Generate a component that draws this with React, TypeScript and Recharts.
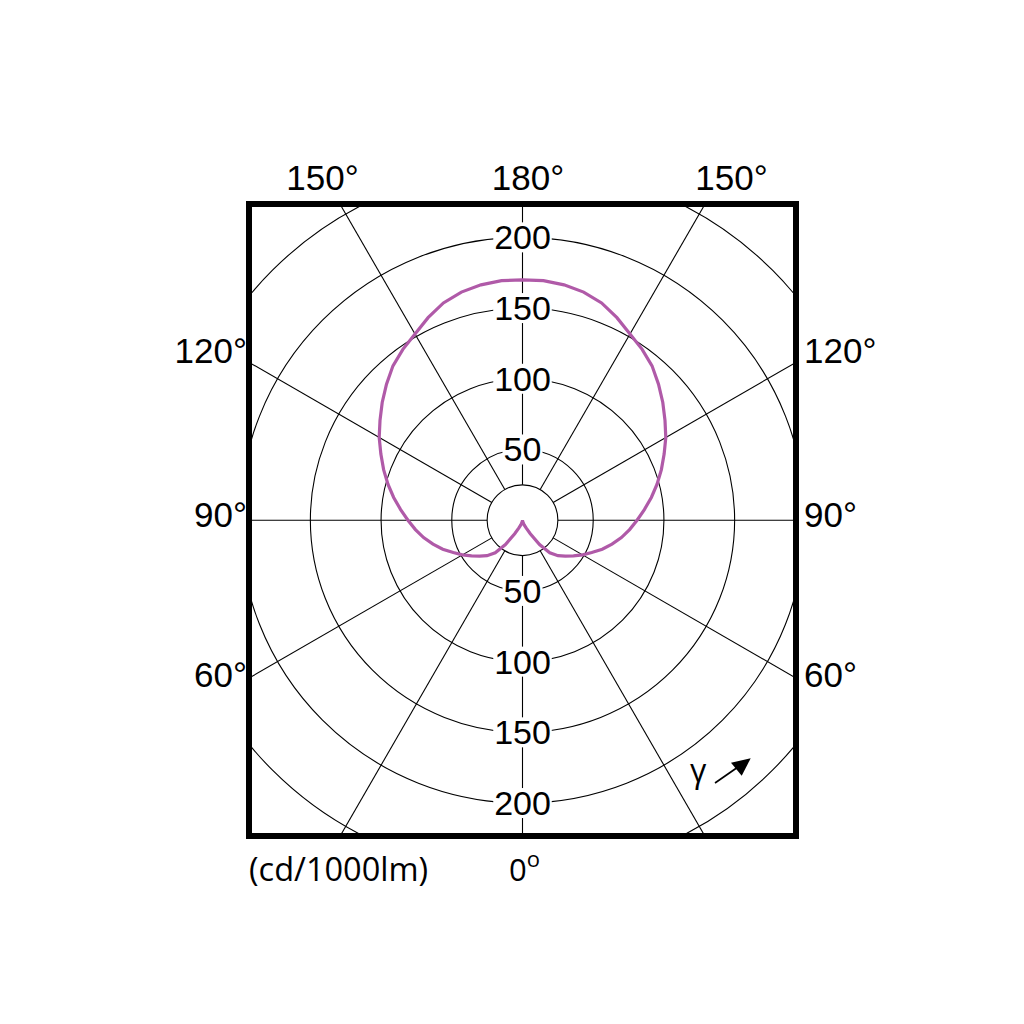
import React from 'react';
import { RadarChart, Radar, PolarGrid, PolarAngleAxis, PolarRadiusAxis } from 'recharts';

// Luminous intensity (cd/1000lm) at gamma = 0..180 deg, 5 deg steps (C0/C180 symmetric)
const gammaStep = 5;
const intensity = [
  0, 0.5, 1, 2, 3.5, 6, 11, 21, 30, 35.5, 39.5, 44, 49, 54, 60, 65.5, 71, 76, 81,
  86.5, 92.5, 98.5, 104.5, 110.5, 117, 123, 129.5, 136, 142.5, 147.5, 152, 158, 163.5, 167, 169, 170, 170,
];
const radiusTicks = [25, 50, 100, 150, 200, 250];
const labeledTicks = [50, 100, 150, 200];
const spokeAngles = [0, 30, 60, 90, 120, 150, 180, 210, 240, 270, 300, 330];
const topLabels = ['150°', '180°', '150°'];
const sideLabels = ['120°', '90°', '60°'];
const unitLabel = '(cd/1000lm)';
const bottomLabel = '0';
const gammaSymbol = 'γ';

// full circle: gamma 0..355, left half mirrors the right half (C180 = C0)
const data: { gamma: number; value: number }[] = [];
for (let i = 0; i < 360 / gammaStep; i++) {
  const g = i * gammaStep;
  const idx = g <= 180 ? g / gammaStep : (360 - g) / gammaStep;
  data.push({ gamma: g, value: intensity[idx] });
}

// layout
const BOX_LEFT = 246;
const BOX_TOP = 201;
const BOX_W = 553;
const BOX_H = 638;
const BORDER = 6;
const INNER_W = BOX_W - 2 * BORDER;
const INNER_H = BOX_H - 2 * BORDER;
const CENTER_X = 522.5;
const CENTER_Y = 520.2;
const CX = CENTER_X - BOX_LEFT - BORDER;
const CY = CENTER_Y - BOX_TOP - BORDER;
const PX_PER_CD = 1.415;
const INNER_R = radiusTicks[0] * PX_PER_CD;
const OUTER_R = 420;
const DOMAIN_MAX = radiusTicks[0] + (OUTER_R - INNER_R) / PX_PER_CD;

const ANGLE_FONT = '"Liberation Sans", Arial, sans-serif';
const UNIT_FONT = '"Open Sans", "Noto Sans", sans-serif';
const CURVE = '#B05AA8';

const RadiusTick = (props: any) => {
  const { x, y, payload } = props;
  const v = payload?.value;
  if (!labeledTicks.includes(v)) return <g />;
  const label = String(v);
  const w = label.length * 18.5 + 3;
  const h = 30;
  const yDown = 2 * CY - y;
  return (
    <g>
      {[y, yDown].map((yy, k) => (
        <g key={k}>
          <rect x={x - w / 2} y={yy - h / 2} width={w} height={h} fill="#fff" />
          <text
            x={x}
            y={yy + 12}
            textAnchor="middle"
            fontFamily={ANGLE_FONT}
            fontSize={34}
            fill="#000"
          >
            {label}
          </text>
        </g>
      ))}
    </g>
  );
};

export default function App() {
  return (
    <div style={{ position: 'absolute', left: 0, top: 0, width: 1024, height: 1024, background: '#fff' }}>
      <div
        style={{
          position: 'absolute',
          left: BOX_LEFT,
          top: BOX_TOP,
          width: BOX_W,
          height: BOX_H,
          boxSizing: 'border-box',
          border: `${BORDER}px solid #000`,
          overflow: 'hidden',
          background: '#fff',
        }}
      >
        <RadarChart
          width={INNER_W}
          height={INNER_H}
          data={data}
          cx={CX}
          cy={CY}
          innerRadius={INNER_R}
          outerRadius={OUTER_R}
          startAngle={-90}
          endAngle={270}
          margin={{ top: 0, right: 0, bottom: 0, left: 0 }}
        >
          <PolarGrid
            gridType="circle"
            polarAngles={spokeAngles}
            stroke="#000"
            strokeWidth={1.1}
            strokeOpacity={1}
          />
          <PolarAngleAxis
            dataKey="gamma"
            type="number"
            domain={[0, 360]}
            tick={false}
            axisLine={false}
            tickLine={false}
          />
          <PolarRadiusAxis
            angle={90}
            type="number"
            domain={[radiusTicks[0], DOMAIN_MAX]}
            allowDataOverflow
            ticks={radiusTicks}
            axisLine={false}
            tickLine={false}
            tick={RadiusTick}
          />
          <Radar
            dataKey="value"
            stroke={CURVE}
            strokeWidth={3.2}
            fill="none"
            fillOpacity={0}
            dot={false}
            isAnimationActive={false}
          />
        </RadarChart>
      </div>
      <svg
        width={1024}
        height={1024}
        style={{ position: 'absolute', left: 0, top: 0, pointerEvents: 'none' }}
      >
        <g fontFamily={ANGLE_FONT} fontSize={35} fill="#000">
          <text x={322.5} y={190} textAnchor="middle">{topLabels[0]}</text>
          <text x={528} y={190} textAnchor="middle">{topLabels[1]}</text>
          <text x={731.5} y={190} textAnchor="middle">{topLabels[2]}</text>
          <text x={247} y={363} textAnchor="end">{sideLabels[0]}</text>
          <text x={247} y={527} textAnchor="end">{sideLabels[1]}</text>
          <text x={247} y={687} textAnchor="end">{sideLabels[2]}</text>
          <text x={804} y={363} textAnchor="start">{sideLabels[0]}</text>
          <text x={804} y={527} textAnchor="start">{sideLabels[1]}</text>
          <text x={804} y={687} textAnchor="start">{sideLabels[2]}</text>
        </g>
        <g fontFamily={UNIT_FONT} fill="#000">
          <text x={249} y={881} fontSize={32.5}>{unitLabel}</text>
          <text x={509} y={881} fontSize={31}>
            {bottomLabel}
            <tspan fontSize={22} dy={-14}>o</tspan>
          </text>
          <text x={690} y={782} fontSize={32}>{gammaSymbol}</text>
        </g>
        <line x1={715} y1={783} x2={738} y2={767} stroke="#000" strokeWidth={1.6} />
        <polygon points="731,762.7 750.7,758.3 741.7,775.7" fill="#000" />
      </svg>
    </div>
  );
}
